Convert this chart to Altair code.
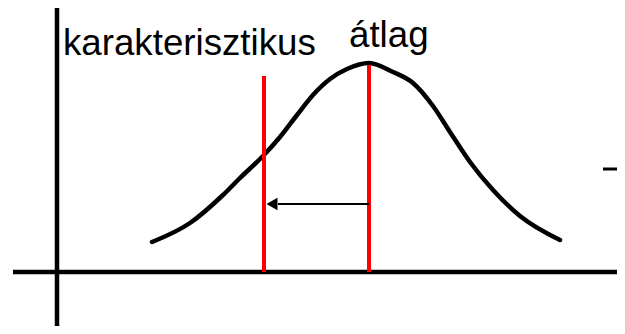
import altair as alt
import pandas as pd

# Bell curve (schematic units: origin at the axes crossing)
curve_x = [95, 133, 166, 183, 206, 223, 240, 256, 273, 290, 312, 336, 356, 376, 393, 413, 436, 463, 503]
curve_y = [30, 49, 77, 94, 116, 135, 157, 177, 193, 203, 209, 200, 189, 166, 140, 110, 82, 56, 32]

# Vertical red markers: characteristic value and mean
marker_names = ["karakterisztikus", "átlag"]
marker_x = [207, 312]
marker_top = [196, 207]

# Labels
label_text = ["karakterisztikus", "átlag"]
label_x = [6, 292]
label_y = [217, 225]

# Arrow from mean to characteristic value
arrow_from = [312]
arrow_to = [221]
arrow_tip = [215]
arrow_y = [68]

# Axes
x_domain = [-49, 560]
y_domain = [-54, 264]
haxis = {"x": [-44], "x2": [560], "y": [0]}
vaxis = {"x": [0], "y": [-54], "y2": [264]}
dash = {"x": [546], "x2": [560], "y": [103]}

xs = alt.Scale(domain=x_domain, nice=False, zero=False)
ys = alt.Scale(domain=y_domain, nice=False, zero=False)

curve_df = pd.DataFrame({"x": curve_x, "y": curve_y})
markers_df = pd.DataFrame({"name": marker_names, "x": marker_x, "y": [0, 0], "y2": marker_top})
labels_df = pd.DataFrame({"t": label_text, "x": label_x, "y": label_y})
arrow_df = pd.DataFrame({"x": arrow_from, "x2": arrow_to, "tip": arrow_tip, "y": arrow_y})

h_axis = alt.Chart(pd.DataFrame(haxis)).mark_rule(color="black", strokeWidth=4.5).encode(
    x=alt.X("x:Q", scale=xs, axis=None), x2="x2:Q", y=alt.Y("y:Q", scale=ys, axis=None))
v_axis = alt.Chart(pd.DataFrame(vaxis)).mark_rule(color="black", strokeWidth=4.5).encode(
    x=alt.X("x:Q", scale=xs, axis=None), y=alt.Y("y:Q", scale=ys, axis=None), y2="y2:Q")
dash_m = alt.Chart(pd.DataFrame(dash)).mark_rule(color="black", strokeWidth=3).encode(
    x=alt.X("x:Q", scale=xs, axis=None), x2="x2:Q", y=alt.Y("y:Q", scale=ys, axis=None))

curve = alt.Chart(curve_df).mark_line(color="black", strokeWidth=4.5, interpolate="monotone",
                                      strokeCap="round").encode(
    x=alt.X("x:Q", scale=xs, axis=None), y=alt.Y("y:Q", scale=ys, axis=None))

markers = alt.Chart(markers_df).mark_rule(color="#ff0000", strokeWidth=4).encode(
    x=alt.X("x:Q", scale=xs, axis=None), y=alt.Y("y:Q", scale=ys, axis=None), y2="y2:Q")

arrow_line = alt.Chart(arrow_df).mark_rule(color="black", strokeWidth=2).encode(
    x=alt.X("x:Q", scale=xs, axis=None), x2="x2:Q", y=alt.Y("y:Q", scale=ys, axis=None))
arrow_head = alt.Chart(arrow_df).mark_point(shape="triangle-left", filled=True, color="black",
                                            size=160, opacity=1).encode(
    x=alt.X("tip:Q", scale=xs, axis=None), y=alt.Y("y:Q", scale=ys, axis=None))

labels = alt.Chart(labels_df).mark_text(align="left", baseline="alphabetic", font="Liberation Sans",
                                        fontSize=36.7, color="black").encode(
    x=alt.X("x:Q", scale=xs, axis=None), y=alt.Y("y:Q", scale=ys, axis=None), text="t:N")

chart = alt.layer(h_axis, v_axis, dash_m, curve, markers, arrow_line, arrow_head, labels).properties(
    width=609, height=318, padding=0, autosize=alt.AutoSizeParams(type="none"),
    background="white"
).configure_view(stroke=None)

chart.save("out.html", embed_options={"renderer": "svg", "actions": False})
